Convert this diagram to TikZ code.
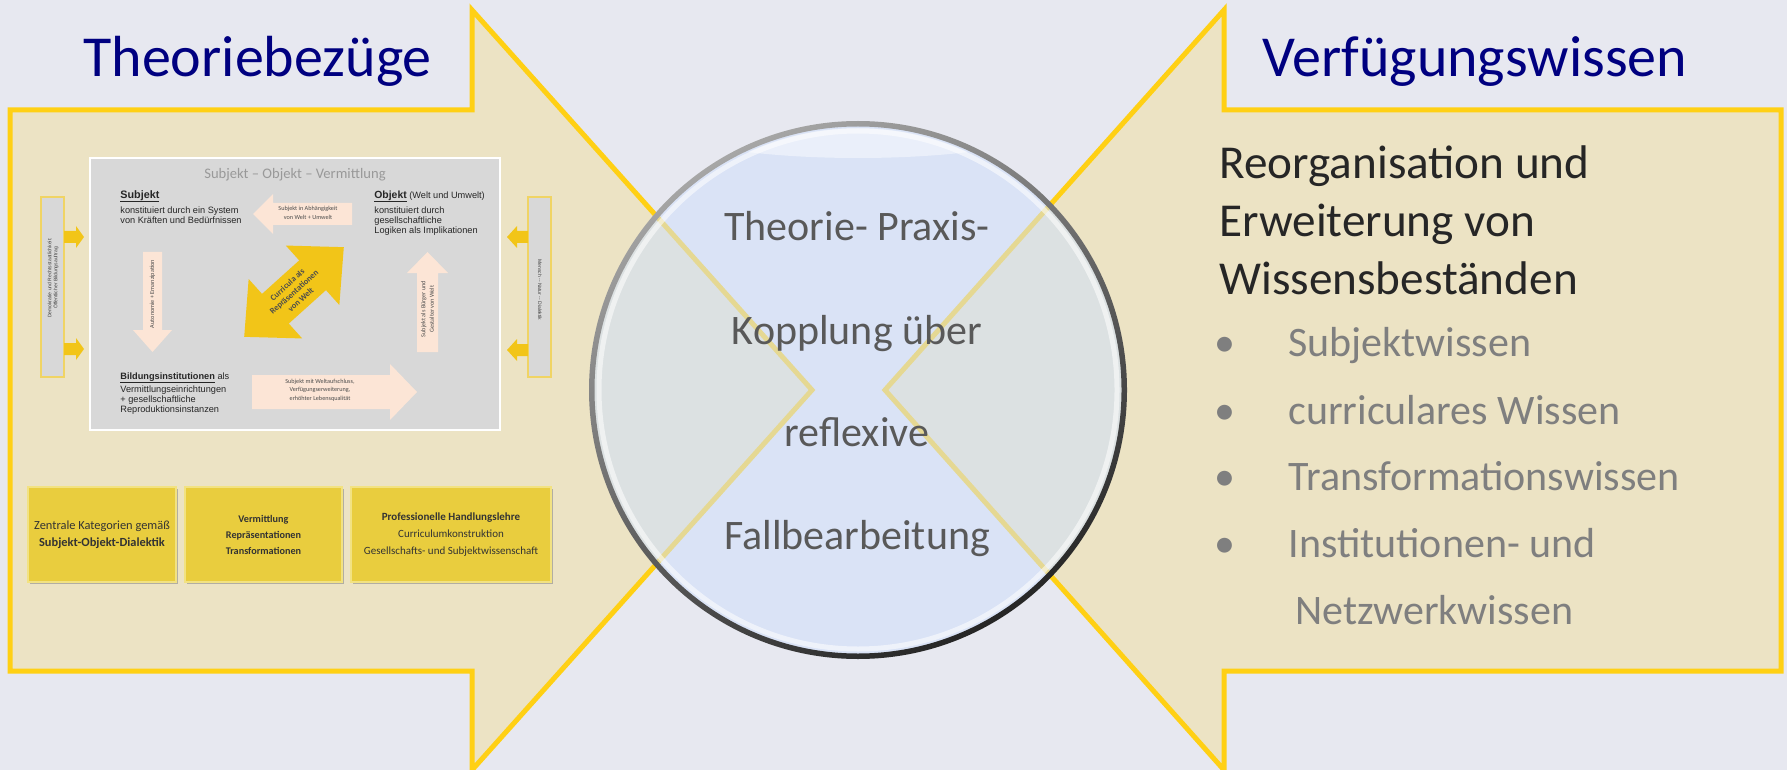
\documentclass[tikz,border=0pt]{standalone}
\usepackage{fontspec}
\setmainfont{Carlito}
\newfontfamily\arialfont{Liberation Sans}
\usetikzlibrary{shadows}
\newcommand{\ulword}[1]{\underline{\smash{#1}}}
\definecolor{bgcol}{RGB}{231,232,240}
\definecolor{arrowfill}{RGB}{236,227,196}
\definecolor{arrowline}{RGB}{255,208,20}
\definecolor{navy}{RGB}{0,0,128}
\definecolor{darktext}{RGB}{38,38,38}
\definecolor{greytext}{RGB}{127,127,127}
\definecolor{lenstext}{RGB}{89,89,89}
\definecolor{lensblue}{RGB}{208,224,252}
\definecolor{insetgrey}{RGB}{216,216,216}
\definecolor{peach}{RGB}{252,229,214}
\definecolor{gold}{RGB}{242,197,24}
\definecolor{boxyellow}{RGB}{233,205,62}
\definecolor{boxedge}{RGB}{242,226,130}
\definecolor{barline}{RGB}{240,212,100}

\begin{document}
\begin{tikzpicture}[x=0.5pt,y=-0.5pt,
	bigarrow/.style={fill=arrowfill,draw=arrowline,line width=2.5pt,line join=miter},
	headline/.style={font=\fontsize{29}{35}\selectfont,text=navy,inner sep=0,anchor=base west},
	lensline/.style={font=\fontsize{21}{25}\selectfont,text=lenstext,inner sep=0,anchor=base},
	reorgline/.style={font=\fontsize{23.6}{28}\selectfont,text=darktext,inner sep=0,anchor=base west},
	listdot/.style={font=\fontsize{21}{25}\selectfont,text=greytext,inner sep=0,anchor=base},
	listitem/.style={font=\fontsize{21}{25}\selectfont,text=greytext,inner sep=0,anchor=base west},
	lens/.style={circle,inner sep=0,minimum size=268pt,fill=lensblue,fill opacity=.55},
	inset/.style={inner sep=0,minimum width=205pt,minimum height=136pt,fill=insetgrey,draw=white,line width=.8pt},
	insettext/.style={font=\arialfont\fontsize{4.6}{5}\selectfont,text=black!85,inner sep=0,align=left,anchor=base west},
	arrowtext/.style={font=\fontsize{3.1}{4.2}\selectfont,text=black!70,inner sep=0,align=center},
	currtext/.style={font=\bfseries\fontsize{4.2}{5}\selectfont,text=black!70,inner sep=0,align=center},
	sidebar/.style={inner sep=0,minimum width=11.5pt,minimum height=90pt,fill=insetgrey,draw=barline,line width=.8pt},
	bartext/.style={font=\arialfont\fontsize{2.5}{3}\selectfont,text=black!75,inner sep=0,align=center},
	katbox/.style={inner sep=0,minimum height=47.5pt,fill=boxyellow,draw=boxedge,line width=.6pt,align=center,text=black!80,
		drop shadow={shadow xshift=.8pt,shadow yshift=-1.2pt,fill=black!45,opacity=.6}}]
	\useasboundingbox (0,0) rectangle (1787,770);
	\fill[bgcol] (0,0) rectangle (1787,770);

	\draw[bigarrow] (10,110) -- (472,110) -- (472,10) -- (812,390) -- (472,770) -- (472,671) -- (10,671) -- cycle;
	\draw[bigarrow] (1781,110) -- (1224,110) -- (1224,10) -- (885,390) -- (1224,770) -- (1224,671) -- (1781,671) -- cycle;

	\node (theorie) at (83,77) [headline] {Theoriebezüge};
	\node (verfuegung) at (1262,77) [headline] {Verfügungswissen};

	\node (inset) at (295,294) [inset] {};
	\node (sov) at (295,179) [inner sep=0,anchor=base,font=\fontsize{7.3}{8}\selectfont,text=black!40] {Subjekt -- Objekt -- Vermittlung};
	\node (subjekt) at (120,224) [insettext] {{\bfseries\fontsize{5.4}{5}\selectfont\ulword{Subjekt}}\\[1.5pt] konstituiert durch ein System\\ von Kräften und Bedürfnissen};
	\node (objekt) at (374,234) [insettext] {{\bfseries\fontsize{5.2}{5}\selectfont\ulword{Objekt}} (Welt und Umwelt)\\[1.5pt] konstituiert durch\\ gesellschaftliche\\ Logiken als Implikationen};
	\node (bildung) at (120,412) [insettext] {{\bfseries\ulword{Bildungsinstitutionen}} als\\ Vermittlungseinrichtungen\\ + gesellschaftliche\\ Reproduktionsinstanzen};

	\fill[peach] (253,214) -- (273,194) -- (273,203) -- (352,203) -- (352,225) -- (273,225) -- (273,234) -- cycle;
	\node (abhaengig) at (308,213) [arrowtext] {Subjekt in Abhängigkeit\\ von Welt + Umwelt};
	\fill[peach] (143,252) -- (162,252) -- (162,330) -- (172,330) -- (152.5,352) -- (133,330) -- (143,330) -- cycle;
	\node (autonomie) at (152.5,294) [arrowtext,rotate=90] {Autonomie + Emanzipation};
	\fill[peach] (417,352) -- (438,352) -- (438,273) -- (448,273) -- (427.5,252) -- (407,273) -- (417,273) -- cycle;
	\node (buerger) at (427.5,309) [arrowtext,rotate=90] {Subjekt als Bürger und\\ Gestalter von Welt};
	\fill[peach] (252,375) -- (390,375) -- (390,364) -- (417,392) -- (390,420) -- (390,409) -- (252,409) -- cycle;
	\node (weltauf) at (320,390) [arrowtext] {Subjekt mit Weltaufschluss,\\ Verfügungserweiterung,\\ erhöhter Lebensqualität};

	\begin{scope}[shift={(294,292)},rotate=42]
		\fill[gold] (67,0) -- (25,40) -- (25,20) -- (-25,20) -- (-25,40) -- (-67,0) -- (-25,-40) -- (-25,-20) -- (25,-20) -- (25,-40) -- cycle;
	\end{scope}
	\node (curricula) at (294,292) [currtext,rotate=42] {Curricula als\\ Repräsentationen\\ von Welt};

	\node (demobar) at (52.5,287) [sidebar] {};
	\node (demotext) at (53,278) [bartext,rotate=90] {Demokratie und Rechtsstaatlichkeit:\\ Öffentlicher Bildungsauftrag};
	\node (naturbar) at (539.5,287) [sidebar] {};
	\node (naturtext) at (540,290) [bartext,rotate=-90] {Mensch -- Natur -- Dialektik};
	\fill[gold] (64,231) -- (76,231) -- (76,226) -- (84,237) -- (76,248) -- (76,243) -- (64,243) -- cycle;
	\fill[gold] (64,343) -- (76,343) -- (76,338) -- (84,349) -- (76,360) -- (76,355) -- (64,355) -- cycle;
	\fill[gold] (528,231) -- (517,231) -- (517,226) -- (507,237) -- (517,248) -- (517,243) -- (528,243) -- cycle;
	\fill[gold] (528,344) -- (517,344) -- (517,339) -- (507,350) -- (517,361) -- (517,356) -- (528,356) -- cycle;

	\node (kategorien) at (102,534.5) [katbox,minimum width=74pt,font=\fontsize{6.2}{8.5}\selectfont] {Zentrale Kategorien gemäß\\ \textbf{Subjekt-Objekt-Dialektik}};
	\node (vermittlung) at (263.5,534.5) [katbox,minimum width=78.5pt,font=\bfseries\fontsize{5.1}{8}\selectfont] {Vermittlung\\ Repräsentationen\\ Transformationen};
	\node (profession) at (451,534.5) [katbox,minimum width=100pt,font=\fontsize{5.5}{8.5}\selectfont] {\textbf{Professionelle Handlungslehre}\\ Curriculumkonstruktion\\ Gesellschafts- und Subjektwissenschaft};

	\node (lens) at (858,390) [lens] {};
	\begin{scope}
		\clip (lens.center) circle (262);
		\fill[white,opacity=.45] (858,118) ellipse (210 and 40);
	\end{scope}
	\draw[white,opacity=.55,line width=2.5pt] (lens.center) circle (259);
	\shade[even odd rule,top color=black!35,bottom color=black!85,shading angle=30] (lens.center) circle (269) (lens.center) circle (263.5);

	\node (kopplung1) at (857,241) [lensline] {Theorie- Praxis-};
	\node (kopplung2) at (857,344) [lensline] {Kopplung über};
	\node (kopplung3) at (857,446) [lensline] {reflexive};
	\node (kopplung4) at (857,549) [lensline] {Fallbearbeitung};

	\node (reorg1) at (1219,179) [reorgline] {Reorganisation und};
	\node (reorg2) at (1219,236) [reorgline] {Erweiterung von};
	\node (reorg3) at (1219,294) [reorgline] {Wissensbeständen};
	\node (dot1) at (1225,356) [listdot] {•};
	\node (dot2) at (1225,424) [listdot] {•};
	\node (dot3) at (1225,490) [listdot] {•};
	\node (dot4) at (1225,557) [listdot] {•};
	\node (item1) at (1288,356) [listitem] {Subjektwissen};
	\node (item2) at (1288,424) [listitem] {curriculares Wissen};
	\node (item3) at (1288,490) [listitem] {Transformationswissen};
	\node (item4) at (1288,557) [listitem] {Institutionen- und};
	\node (item5) at (1295,624) [listitem] {Netzwerkwissen};
\end{tikzpicture}
\end{document}
